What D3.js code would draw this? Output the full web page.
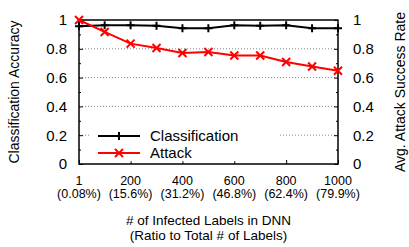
<!DOCTYPE html>
<html>
<head>
<meta charset="utf-8">
<script src="https://cdn.jsdelivr.net/npm/d3@7"></script>
<style>
  body { margin: 0; background: #fff; }
  svg { display: block; font-family: "Liberation Sans", Arial, sans-serif; }
</style>
</head>
<body>
<svg id="chart" width="409" height="247"></svg>
<script>
// data
var labels = [1, 100, 200, 300, 400, 500, 600, 700, 800, 900, 1000];
var classification = [0.957, 0.964, 0.964, 0.96, 0.943, 0.943, 0.964, 0.96, 0.964, 0.943, 0.943];
var attack = [1.0, 0.917, 0.836, 0.806, 0.771, 0.778, 0.754, 0.754, 0.708, 0.677, 0.647];
var xTicks = [1, 200, 400, 600, 800, 1000];
var xTickRatio = ["(0.08%)", "(15.6%)", "(31.2%)", "(46.8%)", "(62.4%)", "(79.9%)"];
var yTicks = [0, 0.2, 0.4, 0.6, 0.8, 1];
var yMinor = [0.1, 0.3, 0.5, 0.7, 0.9];
var seriesNames = ["Classification", "Attack"];

var svg = d3.select("#chart"),
    margin = {top: 20, right: 71, bottom: 83, left: 79},
    width = +svg.attr("width") - margin.left - margin.right,
    height = +svg.attr("height") - margin.top - margin.bottom,
    g = svg.append("g").attr("transform", "translate(" + margin.left + "," + margin.top + ")");

var x = d3.scaleLinear().domain([1, 1000]).range([0, width]);
var y = d3.scaleLinear().domain([0, 1]).range([height, 0]);

// grid
g.append("g").selectAll("line")
  .data(yTicks.slice(1, -1))
  .enter().append("line")
    .attr("x1", 0).attr("x2", width)
    .attr("y1", function(d) { return y(d); })
    .attr("y2", function(d) { return y(d); })
    .attr("stroke", "#888")
    .attr("stroke-width", 1)
    .attr("stroke-dasharray", "1,2");

// left / right / bottom axes, ticks pointing inward
g.append("g").attr("class", "ax").call(d3.axisLeft(y).tickValues(yMinor).tickSize(-2).tickSizeOuter(0).tickFormat(""));
g.append("g").attr("class", "ax").call(d3.axisLeft(y).tickValues(yTicks).tickSize(-4).tickSizeOuter(0).tickFormat(""));
g.append("g").attr("class", "ax").attr("transform", "translate(" + width + ",0)")
  .call(d3.axisRight(y).tickValues(yMinor).tickSize(-2).tickSizeOuter(0).tickFormat(""));
g.append("g").attr("class", "ax").attr("transform", "translate(" + width + ",0)")
  .call(d3.axisRight(y).tickValues(yTicks).tickSize(-4).tickSizeOuter(0).tickFormat(""));
g.append("g").attr("class", "ax").attr("transform", "translate(0," + height + ")")
  .call(d3.axisBottom(x).tickValues(xTicks).tickSize(-4).tickSizeOuter(0).tickFormat(""));
g.selectAll(".ax .domain").remove();
g.selectAll(".ax line").attr("stroke", "#000");

// y tick labels
var fmt = function(d) { return d === 0 || d === 1 ? String(d) : d.toFixed(1); };
g.append("g").selectAll("text")
  .data(yTicks).enter().append("text")
    .attr("x", -12).attr("y", function(d) { return y(d); })
    .attr("dy", "0.36em").attr("text-anchor", "end")
    .attr("font-size", 15)
    .text(fmt);
g.append("g").selectAll("text")
  .data(yTicks).enter().append("text")
    .attr("x", width + 15).attr("y", function(d) { return y(d); })
    .attr("dy", "0.36em").attr("text-anchor", "start")
    .attr("font-size", 15)
    .text(fmt);

// x tick labels, two lines
g.append("g").selectAll("text")
  .data(xTicks).enter().append("text")
    .attr("text-anchor", "middle").attr("font-size", 12.5)
    .attr("x", function(d) { return x(d); })
    .attr("y", height + 21)
    .text(function(d) { return d; });
g.append("g").selectAll("text")
  .data(xTicks).enter().append("text")
    .attr("text-anchor", "middle").attr("font-size", 12.5)
    .attr("x", function(d) { return x(d); })
    .attr("y", height + 34)
    .text(function(d, i) { return xTickRatio[i]; });

// frame
g.append("rect").attr("width", width).attr("height", height)
  .attr("fill", "none").attr("stroke", "#000").attr("stroke-width", 1.5);

// legend background covers the grid
var legend = g.append("g");
legend.append("rect").attr("x", 11).attr("y", y(0.2) - 10).attr("width", 190).attr("height", 36).attr("fill", "#fff");

var line = d3.line()
  .x(function(d, i) { return x(labels[i]); })
  .y(function(d) { return y(d); });

function plus(sel, cx, cy, col) {
  sel.append("path").attr("d", "M" + (cx - 4) + "," + cy + "h8M" + cx + "," + (cy - 4) + "v8")
    .attr("stroke", col).attr("stroke-width", 2).attr("fill", "none");
}
function cross(sel, cx, cy, col) {
  sel.append("path").attr("d", "M" + (cx - 4) + "," + (cy - 4) + "l8,8M" + (cx - 4) + "," + (cy + 4) + "l8,-8")
    .attr("stroke", col).attr("stroke-width", 2).attr("fill", "none");
}

var series = [
  {name: seriesNames[0], values: classification, color: "#000", marker: plus},
  {name: seriesNames[1], values: attack, color: "#ff0000", marker: cross}
];

series.forEach(function(s) {
  g.append("path").datum(s.values)
    .attr("d", line).attr("fill", "none")
    .attr("stroke", s.color).attr("stroke-width", 2);
  s.values.forEach(function(v, i) { s.marker(g, x(labels[i]), y(v), s.color); });
});

series.forEach(function(s, i) {
  var ly = 116 + i * 17;
  legend.append("line").attr("x1", 19).attr("x2", 61).attr("y1", ly).attr("y2", ly)
    .attr("stroke", s.color).attr("stroke-width", 2);
  s.marker(legend, 40, ly, s.color);
  legend.append("text").attr("x", 71).attr("y", ly).attr("dy", "0.36em")
    .attr("font-size", 15).text(s.name);
});

// axis titles
svg.append("text")
  .attr("transform", "translate(19," + (margin.top + height / 2) + ") rotate(-90)")
  .attr("text-anchor", "middle").attr("font-size", 14)
  .text("Classification Accuracy");
svg.append("text")
  .attr("transform", "translate(405," + (margin.top + height / 2) + ") rotate(-90)")
  .attr("text-anchor", "middle").attr("font-size", 14)
  .text("Avg. Attack Success Rate");
svg.append("text")
  .attr("x", margin.left + width / 2).attr("y", 225)
  .attr("text-anchor", "middle").attr("font-size", 13.5)
  .text("# of Infected Labels in DNN");
svg.append("text")
  .attr("x", margin.left + width / 2).attr("y", 240)
  .attr("text-anchor", "middle").attr("font-size", 13.5)
  .text("(Ratio to Total # of Labels)");
</script>
</body>
</html>
